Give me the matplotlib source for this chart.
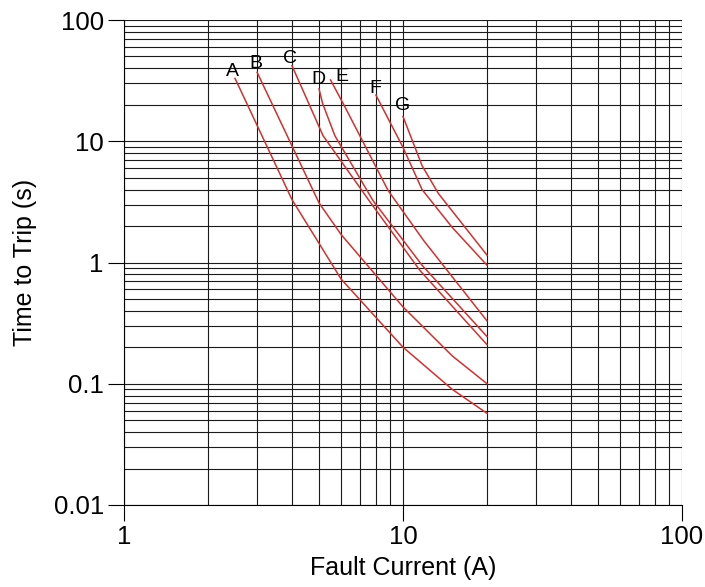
import matplotlib
matplotlib.use("Agg")
import matplotlib.pyplot as plt
from matplotlib.ticker import LogLocator, NullFormatter, FixedLocator, FixedFormatter

plt.rcParams['font.family'] = ['Liberation Sans', 'DejaVu Sans']

# Curve data (fault current A, time s)
a_x = [2.5, 4, 6, 10, 15, 20]
a_y = [33, 3.3, 0.73, 0.2, 0.09, 0.057]
b_x = [3, 5, 6, 10, 15, 20]
b_y = [37, 3.1, 1.7, 0.43, 0.17, 0.10]
c_x = [4, 5.17, 7.55, 11.5, 20]
c_y = [42, 11.1, 3.25, 0.86, 0.21]
d_x = [5, 5.15, 5.7, 7.8, 11.7, 20]
d_y = [27, 20.5, 11.1, 3.25, 0.95, 0.245]
e_x = [5.5, 6.2, 8.84, 11.85, 20]
e_y = [32, 19.1, 3.93, 1.52, 0.33]
f_x = [8, 10, 11.7, 15, 20]
f_y = [24, 8.9, 4.0, 1.95, 0.95]
g_x = [10, 11.7, 13.4, 20]
g_y = [16, 6.3, 3.7, 1.15]

curve_names = ['A', 'B', 'C', 'D', 'E', 'F', 'G']
curves_x = [a_x, b_x, c_x, d_x, e_x, f_x, g_x]
curves_y = [a_y, b_y, c_y, d_y, e_y, f_y, g_y]
label_offsets = [(-1.8, 1.4), (-0.7, 3.2), (-1.2, 1.7), (-0.7, 3.4), (8.3, -0.7), (-0.5, 1.9), (0, 4.8)]

x_ticks = [1, 10, 100]
x_tick_labels = ['1', '10', '100']
y_ticks = [0.01, 0.1, 1, 10, 100]
y_tick_labels = ['0.01', '0.1', '1', '10', '100']

fig = plt.figure(figsize=(7.05, 5.87), dpi=100)
ax = fig.add_axes([124/705, 1-505/587, (682-124)/705, (505-20)/587])
ax.set_xscale('log')
ax.set_yscale('log')
ax.set_xlim(1, 100)
ax.set_ylim(0.01, 100)

ax.xaxis.set_major_locator(FixedLocator(x_ticks))
ax.xaxis.set_major_formatter(FixedFormatter(x_tick_labels))
ax.yaxis.set_major_locator(FixedLocator(y_ticks))
ax.yaxis.set_major_formatter(FixedFormatter(y_tick_labels))
ax.xaxis.set_minor_locator(LogLocator(base=10, subs=range(2, 10), numticks=20))
ax.yaxis.set_minor_locator(LogLocator(base=10, subs=range(2, 10), numticks=20))
ax.xaxis.set_minor_formatter(NullFormatter())
ax.yaxis.set_minor_formatter(NullFormatter())

ax.grid(True, which='both', color='#1a1a1a', linewidth=0.8)
ax.tick_params(which='major', direction='out', length=11.5, width=0.8, labelsize=18.5, pad=3)
ax.tick_params(which='minor', length=0)
for side in ['top', 'right']:
    ax.spines[side].set_visible(False)
for side in ['left', 'bottom']:
    ax.spines[side].set_linewidth(0.8)

for name, xs, ys, off in zip(curve_names, curves_x, curves_y, label_offsets):
    ax.plot(xs, ys, color='#d03232', linewidth=1.1, zorder=3)
    ax.annotate(name, (xs[0], ys[0]), xytext=off, textcoords='offset points',
                ha='center', va='baseline', fontsize=14, color='black', zorder=4)

ax.set_xlabel('Fault Current (A)', fontsize=18, labelpad=5)
ax.set_ylabel('Time to Trip (s)', fontsize=18, labelpad=12)

fig.savefig('out.png', dpi=100)
